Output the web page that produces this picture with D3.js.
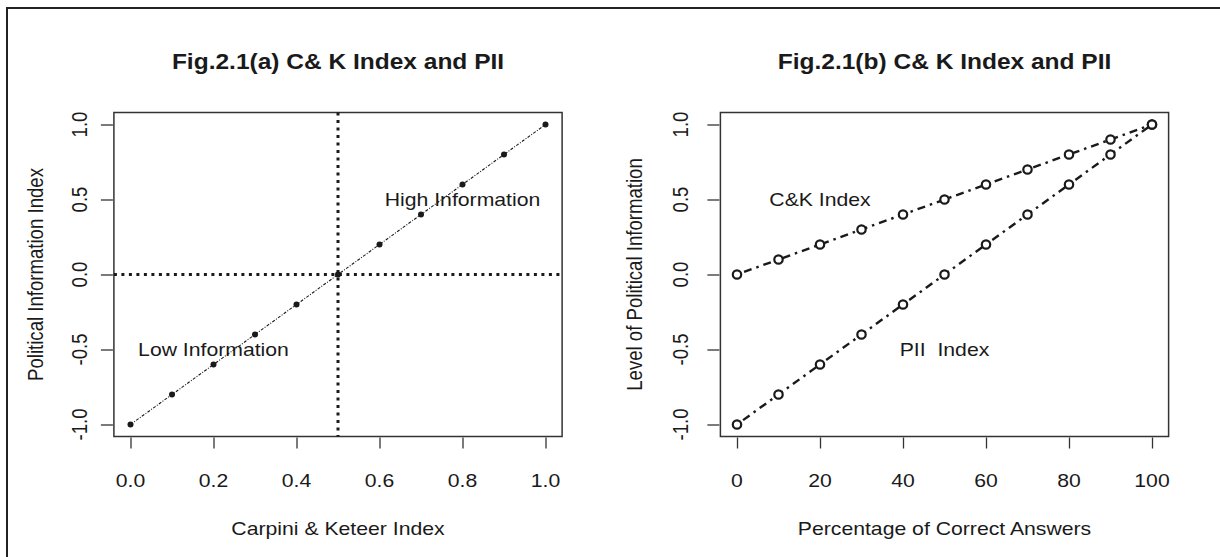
<!DOCTYPE html>
<html>
<head>
<meta charset="utf-8">
<script src="https://cdn.jsdelivr.net/npm/d3@7"></script>
<style>
  body { margin: 0; background: #fff; }
  text { font-family: "Liberation Sans", Arial, Helvetica, sans-serif; fill: #1a1a1a; white-space: pre; }
</style>
</head>
<body>
<svg id="chart" width="1220" height="557"></svg>
<script>
// Panel (a): Carpini & Keeter index against the political information index
const ckScoreA = [0.0, 0.1, 0.2, 0.3, 0.4, 0.5, 0.6, 0.7, 0.8, 0.9, 1.0];
const piiScoreA = [-1.0, -0.8, -0.6, -0.4, -0.2, 0.0, 0.2, 0.4, 0.6, 0.8, 1.0];

// Panel (b): both indices against the share of correct answers
const pctCorrect = [0, 10, 20, 30, 40, 50, 60, 70, 80, 90, 100];
const ckIndexB = [0.0, 0.1, 0.2, 0.3, 0.4, 0.5, 0.6, 0.7, 0.8, 0.9, 1.0];
const piiIndexB = [-1.0, -0.8, -0.6, -0.4, -0.2, 0.0, 0.2, 0.4, 0.6, 0.8, 1.0];

// Tick labels
const xTicksA = [0.0, 0.2, 0.4, 0.6, 0.8, 1.0];
const xTicksB = [0, 20, 40, 60, 80, 100];
const yTicks = [-1.0, -0.5, 0.0, 0.5, 1.0];

// Reference lines in panel (a)
const refX = 0.5;
const refY = 0.0;

// Text annotations placed in data coordinates
const notesA = [
  { x: 0.8, y: 0.5, label: "High Information" },
  { x: 0.2, y: -0.5, label: "Low Information" }
];
const notesB = [
  { x: 20, y: 0.5, label: "C&K Index" },
  { x: 50, y: -0.5, label: "PII  Index" }
];

const svg = d3.select("#chart");
const SX = 1.14;          // horizontal glyph stretch of the layout
const FS = 18.6;          // base font size
const ink = "#1a1a1a";

// outer frame (left and top edges visible)
svg.append("rect")
  .attr("x", 7).attr("y", 8).attr("width", 1240).attr("height", 600)
  .attr("fill", "none").attr("stroke", "#222").attr("stroke-width", 2);

function addText(g, x, y, str, opts = {}) {
  const rot = opts.rotate ? ` rotate(${opts.rotate})` : "";
  return g.append("text")
    .attr("transform", `translate(${x},${y}) scale(${SX},1)${rot}`)
    .attr("text-anchor", opts.anchor || "middle")
    .attr("font-size", opts.size || FS)
    .attr("font-weight", opts.bold ? "bold" : "normal")
    .text(str);
}

function panel(cfg) {
  const g = svg.append("g");
  const x = d3.scaleLinear().domain(cfg.xDomain).range(cfg.xRange);
  const y = d3.scaleLinear().domain([-1, 1]).range([424.5, 124.5]);
  const padX = 0.04 * (cfg.xRange[1] - cfg.xRange[0]);
  const padY = 0.04 * 300;
  const left = cfg.xRange[0] - padX, right = cfg.xRange[1] + padX;
  const top = 124.5 - padY, bottom = 424.5 + padY;

  // x axis
  const xa = g.append("g").attr("transform", `translate(0,${bottom + 1})`)
    .call(d3.axisBottom(x).tickValues(cfg.xTicks).tickSize(11).tickSizeOuter(0).tickFormat(cfg.xFmt));
  xa.select(".domain").remove();
  xa.selectAll("line").attr("stroke", "#333").attr("stroke-width", 1.3);
  xa.selectAll("text").remove();
  cfg.xTicks.forEach(v => addText(g, x(v), 487, cfg.xFmt(v)));

  // y axis
  const ya = g.append("g").attr("transform", `translate(${left - 1},0)`)
    .call(d3.axisLeft(y).tickValues(yTicks).tickSize(12).tickSizeOuter(0));
  ya.select(".domain").remove();
  ya.selectAll("line").attr("stroke", "#333").attr("stroke-width", 1.3);
  ya.selectAll("text").remove();
  yTicks.forEach(v => addText(g, cfg.yTickX, y(v), d3.format(".1f")(v).replace("−", "-"), { rotate: -90 }));

  // plot box
  g.append("rect")
    .attr("x", left).attr("y", top).attr("width", right - left).attr("height", bottom - top)
    .attr("fill", "none").attr("stroke", "#333").attr("stroke-width", 1.5);

  // titles
  addText(g, (left + right) / 2, 69, cfg.title, { bold: true, size: 21.5 });
  addText(g, (left + right) / 2, 535, cfg.xLabel);
  addText(g, cfg.yLabelX, (top + bottom) / 2, cfg.yLabel, { rotate: -90 });

  return { g, x, y, left, right, top, bottom };
}

// ---------- Panel (a)
const A = panel({
  xDomain: [0, 1], xRange: [130.5, 545.5], xTicks: xTicksA,
  xFmt: d3.format(".1f"), yTickX: 87, yLabelX: 43,
  title: "Fig.2.1(a) C& K Index and PII",
  xLabel: "Carpini & Keteer Index",
  yLabel: "Political Information Index"
});

// dotted reference lines
A.g.append("line")
  .attr("x1", A.left).attr("x2", A.right).attr("y1", A.y(refY)).attr("y2", A.y(refY))
  .attr("stroke", ink).attr("stroke-width", 3).attr("stroke-dasharray", "3 4.5");
A.g.append("line")
  .attr("x1", A.x(refX)).attr("x2", A.x(refX)).attr("y1", A.top).attr("y2", A.bottom)
  .attr("stroke", ink).attr("stroke-width", 3).attr("stroke-dasharray", "3 4.5");

const ptsA = ckScoreA.map((v, i) => [v, piiScoreA[i]]);
A.g.append("path")
  .attr("d", d3.line().x(d => A.x(d[0])).y(d => A.y(d[1]))(ptsA))
  .attr("fill", "none").attr("stroke", ink).attr("stroke-width", 1.1)
  .attr("stroke-dasharray", "3 1.5 1 1.5");
A.g.selectAll("circle.pt").data(ptsA).join("circle")
  .attr("cx", d => A.x(d[0])).attr("cy", d => A.y(d[1])).attr("r", 3)
  .attr("fill", ink);

notesA.forEach(n => addText(A.g, A.x(n.x), A.y(n.y) + 6.5, n.label));

// ---------- Panel (b)
const B = panel({
  xDomain: [0, 100], xRange: [737, 1152], xTicks: xTicksB,
  xFmt: d3.format("d"), yTickX: 688, yLabelX: 642,
  title: "Fig.2.1(b) C& K Index and PII",
  xLabel: "Percentage of Correct Answers",
  yLabel: "Level of Political Information"
});

[ckIndexB, piiIndexB].forEach(series => {
  const pts = pctCorrect.map((p, i) => [p, series[i]]);
  B.g.append("path")
    .attr("d", d3.line().x(d => B.x(d[0])).y(d => B.y(d[1]))(pts))
    .attr("fill", "none").attr("stroke", ink).attr("stroke-width", 2.4)
    .attr("stroke-dasharray", "2.5 5 8 5");
  B.g.selectAll(null).data(pts).join("circle")
    .attr("cx", d => B.x(d[0])).attr("cy", d => B.y(d[1])).attr("r", 4.2)
    .attr("fill", "#fff").attr("stroke", ink).attr("stroke-width", 2.2);
});

notesB.forEach(n => addText(B.g, B.x(n.x), B.y(n.y) + 6.5, n.label));
</script>
</body>
</html>
